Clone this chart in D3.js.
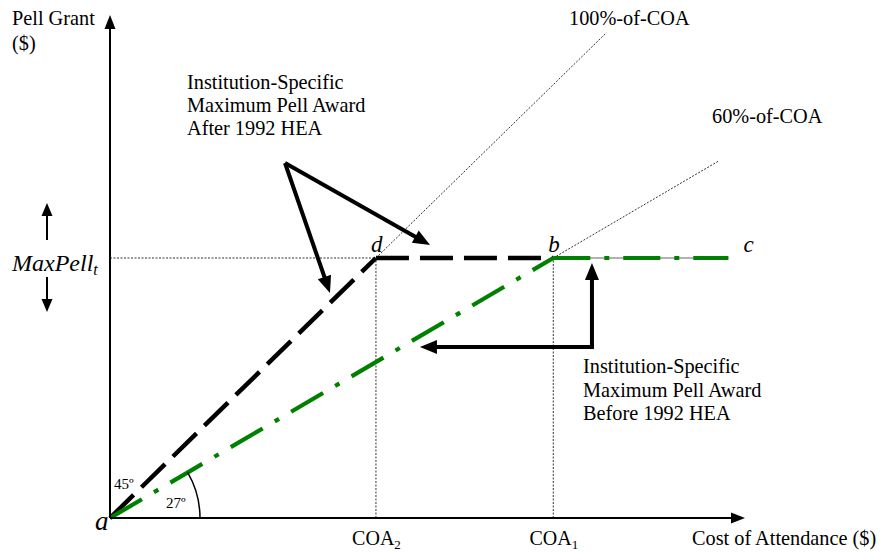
<!DOCTYPE html>
<html><head><meta charset="utf-8">
<script src="https://cdn.jsdelivr.net/npm/d3@7"></script>
<style>
body{margin:0;background:#fff}
text{font-family:"Liberation Serif","Times New Roman",serif;fill:#000}
</style>
</head><body><svg id="chart" width="882" height="553"></svg>
<script>
// ---- data (dollars) ----
const maxPell = 2400;
const coaTickValues = [2400, 4000];
const coaTickNames = ["COA", "COA"];
const coaTickSubs = ["2", "1"];
// institution-specific maximum award after 1992 HEA: a -> d -> b
const afterX = [0, 2400, 4000];
const afterY = [0, 2400, 2400];
// before 1992 HEA: a -> b -> c
const beforeX = [0, 4000, 5580];
const beforeY = [0, 2400, 2400];
// reference rays
const ray100X = [2400, 4480];
const ray100Y = [2400, 4480];
const ray60X = [4000, 5490];
const ray60Y = [2400, 3294];
const pointNames = ["a", "d", "b", "c"];
const pointX = [0, 2400, 4000, 5580];
const pointY = [0, 2400, 2400, 2400];
// annotation arrows (data units)
const noteAfterFrom = [1579, 3277];
const noteAfterTo = [[1985, 2077], [2888, 2520]];
const noteBeforeCorner = [4349, 1578];
const noteBeforeTo = [[4349, 2354], [2797, 1578]];

const svg = d3.select("#chart");
const x = d3.scaleLinear().domain([0, 5730]).range([110, 745]);
const y = d3.scaleLinear().domain([0, 4643]).range([518, 15]);

function arrow(g, x1, y1, x2, y2, w, len, hw) {
  const dx = x2 - x1, dy = y2 - y1, L = Math.hypot(dx, dy);
  const ux = dx / L, uy = dy / L;
  const bx = x2 - ux * len, by = y2 - uy * len;
  g.append("line").attr("x1", x1).attr("y1", y1)
    .attr("x2", x2 - ux * len * 0.7).attr("y2", y2 - uy * len * 0.7)
    .attr("stroke", "#000").attr("stroke-width", w);
  g.append("path").attr("d", `M${x2},${y2}L${bx - uy * hw},${by + ux * hw}L${bx + uy * hw},${by - ux * hw}Z`)
    .attr("fill", "#000");
}
// draw each segment of a polyline separately so that the dash pattern restarts at each vertex
function segs(g, xs, ys, stroke, width, dash) {
  for (let i = 0; i < xs.length - 1; i++) {
    g.append("line").attr("x1", x(xs[i])).attr("y1", y(ys[i]))
      .attr("x2", x(xs[i + 1])).attr("y2", y(ys[i + 1]))
      .attr("stroke", stroke).attr("stroke-width", width).attr("stroke-dasharray", dash);
  }
}

// dotted guide lines
const guide = svg.append("g").attr("stroke", "#333").attr("stroke-width", 1).attr("stroke-dasharray", "2,1.5").attr("fill", "none");
guide.append("line").attr("x1", x(0)).attr("x2", x(coaTickValues[0])).attr("y1", y(maxPell)).attr("y2", y(maxPell));
coaTickValues.forEach(v => guide.append("line").attr("x1", x(v)).attr("x2", x(v)).attr("y1", y(0)).attr("y2", y(maxPell)));
guide.append("path").attr("d", d3.line()(ray100X.map((v, i) => [x(v), y(ray100Y[i])])));
guide.append("path").attr("d", d3.line()(ray60X.map((v, i) => [x(v), y(ray60Y[i])])));

// thin line under before-1992 flat segment
svg.append("line").attr("x1", x(beforeX[1])).attr("x2", x(beforeX[2]))
  .attr("y1", y(beforeY[1])).attr("y2", y(beforeY[2])).attr("stroke", "#666").attr("stroke-width", 1.2);

// after 1992 (black dashed)
segs(svg.append("g"), afterX, afterY, "#000", 4.5, "33,11");
// before 1992 (green dash-dot)
segs(svg.append("g"), beforeX, beforeY, "#008000", 4.2, "37,14,5,14");

// axes
const ax = svg.append("g");
arrow(ax, x(0), y(0), x.range()[1], y(0), 2, 14, 5.5);
arrow(ax, x(0), y(0), x(0), y.range()[1], 2, 14, 5.5);

const xAxis = d3.axisBottom(x).tickValues(coaTickValues).tickSize(0).tickFormat(() => "");
const xg = svg.append("g").attr("transform", `translate(0,${y(0)})`).call(xAxis);
xg.select(".domain").remove();
xg.selectAll(".tick").each(function(d, i) {
  const t = d3.select(this).select("text").attr("y", 27).attr("dy", 0)
    .attr("font-size", 20).attr("text-anchor", "middle")
    .style("font-family", '"Liberation Serif","Times New Roman",serif');
  t.append("tspan").text(coaTickNames[i]);
  t.append("tspan").attr("font-size", 13).attr("dy", 4).text(coaTickSubs[i]);
});

// 27 degree arc
const ang = Math.atan2(y(0) - y(beforeY[1]), x(beforeX[1]) - x(0));
svg.append("path").attr("d", d3.arc().innerRadius(90).outerRadius(90).startAngle(Math.PI / 2 - ang).endAngle(Math.PI / 2)())
  .attr("transform", `translate(${x(0)},${y(0)})`).attr("fill", "none").attr("stroke", "#000").attr("stroke-width", 1.5);

// annotation arrows
const an = svg.append("g");
noteAfterTo.forEach(p => arrow(an, x(noteAfterFrom[0]), y(noteAfterFrom[1]), x(p[0]), y(p[1]), 4, 17, 7));
noteBeforeTo.forEach(p => arrow(an, x(noteBeforeCorner[0]), y(noteBeforeCorner[1]), x(p[0]), y(p[1]), 4, 17, 7));
an.append("rect").attr("x", x(noteBeforeCorner[0]) - 2).attr("y", y(noteBeforeCorner[1]) - 2).attr("width", 4).attr("height", 4);

// maxpell up/down arrows
arrow(an, 47, 240, 47, 203, 2, 13, 5.5);
arrow(an, 47, 277, 47, 312, 2, 13, 5.5);

// text
const T = (s, tx, ty, opts = {}) => svg.append("text").attr("x", tx).attr("y", ty)
  .attr("font-size", opts.size || 20.3).attr("font-style", opts.italic ? "italic" : null)
  .attr("text-anchor", opts.anchor || "start").text(s);
T("Pell Grant", 12, 25);
T("($)", 12, 50);
T("100%-of-COA", 569, 25);
T("60%-of-COA", 712, 123);
["Institution-Specific", "Maximum Pell Award", "After 1992 HEA"].forEach((s, i) => T(s, 187, 89 + i * 23));
["Institution-Specific", "Maximum Pell Award", "Before 1992 HEA"].forEach((s, i) => T(s, 583, 373 + i * 23.5));
T("Cost of Attendance ($)", 692, 545);
T("45º", 114, 489, {size: 15});
T("27º", 166, 508, {size: 15});
const mp = T("MaxPell", 12, 271, {italic: true, size: 24});
mp.append("tspan").attr("font-size", 16).attr("dy", 4).text("t");
// point labels
const offX = [-15, -5, -5, 15];
const offY = [12, -6, -6, -6];
pointNames.forEach((s, i) => T(s, x(pointX[i]) + offX[i], y(pointY[i]) + offY[i],
  {italic: true, size: i === 0 ? 27 : 23}));
</script>
</body></html>
